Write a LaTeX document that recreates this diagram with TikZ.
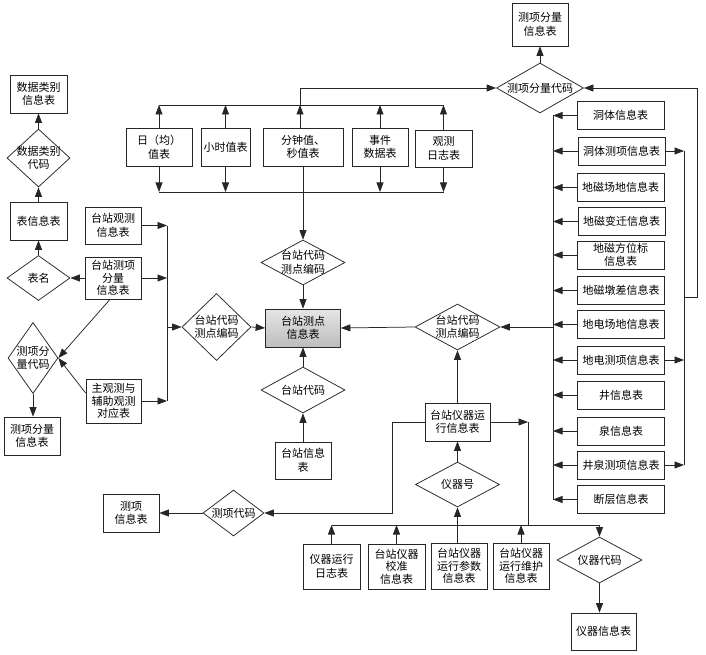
\documentclass[tikz,border=0pt]{standalone}
\usepackage{fontspec}
\setmainfont{Noto Sans CJK SC}
\usetikzlibrary{arrows.meta,shapes.geometric,calc}
\begin{document}
\begin{tikzpicture}[x=1pt,y=-1pt,
 box/.style={draw=black!85, line width=0.75pt, fill=white, align=center, inner sep=1pt, font=\fontsize{11}{13.5}\selectfont},
 rbox/.style={box, minimum width=87pt, minimum height=28pt},
 dia/.style={draw=black!85, diamond, line width=0.75pt, inner sep=0pt, fill=white},
 dtext/.style={align=center, inner sep=0pt, font=\fontsize{11}{13.5}\selectfont},
 arr/.style={draw=black!85, line width=0.75pt, -{Triangle[length=9.5pt,width=7pt]}},
 ln/.style={draw=black!85, line width=0.75pt}]
\useasboundingbox (0,0) rectangle (706,655);

% left column
\node[box, minimum width=57pt, minimum height=38pt] (dlxx) at (38.5,94) {数据类别\\信息表};
\node[dia, minimum width=63pt, minimum height=58pt, label={[dtext,name=dldmT]center:数据类别\\代码}] (dldm) at (38.5,158) {};
\node[box, minimum width=57pt, minimum height=38pt] (bxx) at (38.5,221) {表信息表};
\node[dia, minimum width=63pt, minimum height=45pt, label={[dtext,name=bmT]center:表名}] (bm) at (38.5,278) {};
\node[dia, minimum width=50pt, minimum height=71pt, label={[dtext,name=cxflT]center:测项分\\量代码}] (cxfl) at (33,358) {};
\node[box, minimum width=56pt, minimum height=38pt] (cxflb) at (32,436) {测项分量\\信息表};

\node[box, minimum width=56pt, minimum height=37pt] (tzgc) at (113,225.5) {台站观测\\信息表};
\node[box, minimum width=56pt, minimum height=42pt, font=\fontsize{11}{12.5}\selectfont] (tzcx) at (113,278) {台站测项\\分量\\信息表};
\node[box, minimum width=55pt, minimum height=44pt, font=\fontsize{11}{12.5}\selectfont] (zgc) at (113.5,401) {主观测与\\辅助观测\\对应表};

% top row
\node[box, minimum width=66pt, minimum height=38pt] (rj) at (159,147) {日（均）\\值表};
\node[box, minimum width=49pt, minimum height=38pt] (xs) at (225.5,147) {小时值表};
\node[box, minimum width=80pt, minimum height=38pt] (fz) at (303,147) {分钟值、\\秒值表};
\node[box, minimum width=56pt, minimum height=38pt] (sj) at (380,147) {事件\\数据表};
\node[box, minimum width=57pt, minimum height=37pt] (gcrz) at (443.5,148.5) {观测\\日志表};

% top right
\node[box, minimum width=56pt, minimum height=43pt] (cxflxx) at (540,24.5) {测项分量\\信息表};
\node[dia, minimum width=87pt, minimum height=50pt, label={[dtext,name=cxfldmT]center:测项分量代码}] (cxfldm) at (540,88) {};

% right column
\node[rbox] (r1) at (620.5,115.5) {洞体信息表};
\node[rbox] (r2) at (621.5,151) {洞体测项信息表};
\node[rbox] (r3) at (620.5,187.5) {地磁场地信息表};
\node[rbox] (r4) at (621.5,221.5) {地磁变迁信息表};
\node[rbox, font=\fontsize{11}{13}\selectfont] (r5) at (620.5,255) {地磁方位标\\信息表};
\node[rbox] (r6) at (621,290.5) {地磁墩差信息表};
\node[rbox] (r7) at (621,324.5) {地电场地信息表};
\node[rbox] (r8) at (621,360) {地电测项信息表};
\node[rbox] (r9) at (621,395) {井信息表};
\node[rbox] (r10) at (621,431) {泉信息表};
\node[rbox] (r11) at (621,465) {井泉测项信息表};
\node[rbox] (r12) at (621,499.5) {断层信息表};

% center
\node[box, minimum width=75pt, minimum height=38pt, top color=black!10, bottom color=black!26, draw=black!85] (zd) at (303,328) {台站测点\\信息表};
\node[dia, minimum width=84pt, minimum height=45pt, label={[dtext,name=dtopT]center:台站代码\\测点编码}] (dtop) at (303,262.5) {};
\node[dia, minimum width=69pt, minimum height=67pt, label={[dtext,name=dleftT]center:台站代码\\测点编码}] (dleft) at (216.5,327) {};
\node[dia, minimum width=85pt, minimum height=46pt, label={[dtext,name=drightT]center:台站代码\\测点编码}] (dright) at (457.5,327) {};
\node[dia, minimum width=84pt, minimum height=46pt, label={[dtext,name=dbotT]center:台站代码}] (dbot) at (303,390) {};
\node[box, minimum width=56pt, minimum height=37pt] (tzxx) at (303,460.5) {台站信息\\表};

% instruments
\node[dia, minimum width=61pt, minimum height=46pt, label={[dtext,name=cxdmT]center:测项代码}] (cxdm) at (233.5,513) {};
\node[box, minimum width=56pt, minimum height=38pt] (cxxx) at (131,513) {测项\\信息表};
\node[box, minimum width=65pt, minimum height=38pt] (yqyx) at (457.5,422) {台站仪器运\\行信息表};
\node[dia, minimum width=84pt, minimum height=45pt, label={[dtext,name=yqhT]center:仪器号}] (yqh) at (457.5,484.5) {};
\node[dia, minimum width=85pt, minimum height=46pt, label={[dtext,name=yqdmT]center:仪器代码}] (yqdm) at (599.5,560) {};
\node[box, minimum width=65pt, minimum height=37pt] (yqxx) at (603.5,631.5) {仪器信息表};
\node[box, minimum width=57pt, minimum height=45pt] (rzb) at (331.5,566.5) {仪器运行\\日志表};
\node[box, minimum width=57pt, minimum height=45pt, font=\fontsize{11}{12.5}\selectfont] (jz) at (396.5,566.5) {台站仪器\\校准\\信息表};
\node[box, minimum width=56pt, minimum height=46pt, font=\fontsize{11}{12.5}\selectfont] (cs) at (459,566) {台站仪器\\运行参数\\信息表};
\node[box, minimum width=56pt, minimum height=46pt, font=\fontsize{11}{12.5}\selectfont] (wh) at (521,566) {台站仪器\\运行维护\\信息表};

% coordinates
\coordinate (bL) at (167,327);
\coordinate (bR) at (553,327);
\coordinate (topL) at (0,105);
\coordinate (botL) at (0,192);
\coordinate (bR2) at (684,297);
\coordinate (bR3) at (697,297);
\coordinate (yL) at (392,513);
\coordinate (yB) at (528,525);
\coordinate (fzT) at ($(fz.north)+(-3,0)$);

% left connectors
\draw[arr] (bm.north) -- (bxx.south);
\draw[arr] (bxx.north) -- (dldm.south);
\draw[arr] (dldm.north) -- (dlxx.south);
\draw[arr] (tzcx.west) -- (bm.east);
\draw[arr] ($(tzcx.south)+(-3,0)$) -- (cxfl.east);
\draw[arr] ($(zgc.west)+(0,-8)$) -- (cxfl.east);
\draw[arr] (cxfl.south) -- (cxfl.south |- cxflb.north);

\draw[arr] (tzgc.east) -- (tzgc.east -| bL);
\draw[arr] (tzcx.east) -- (tzcx.east -| bL);
\draw[arr] (zgc.east) -- (zgc.east -| bL);
\draw[ln] (tzgc.east -| bL) -- (zgc.east -| bL);
\draw[arr] (bL) -- (dleft.west);

% top row connectors
\foreach \n in {rj,xs,sj,gcrz}{
  \draw[arr] (\n.north) -- (\n.north |- topL);
  \draw[arr] (\n.south) -- (\n.south |- botL);
}
\draw[arr] (fzT) -- (fzT |- topL);
\draw[ln] (rj.north |- topL) -- (gcrz.north |- topL);
\draw[ln] (rj.south |- botL) -- (gcrz.south |- botL);
\draw[arr] (fzT |- topL) |- (cxfldm.west);
\draw[arr] (cxfldm.north) -- (cxflxx.south);
\draw[arr] (fz.south) -- (dtop.north);

% center connectors
\draw[arr] (dtop.south) -- (zd.north);
\draw[arr] (dleft.east) -- (zd.west);
\draw[arr] (dright.west) -- (zd.east);
\draw[arr] (dbot.north) -- (zd.south);
\draw[arr] (tzxx.north) -- (dbot.south);

% right bus
\foreach \n in {r1,r2,r3,r4,r5,r6,r7,r8,r9,r10,r11,r12}{
  \draw[arr] (\n.west) -- (\n.west -| bR);
}
\draw[ln] (r1.west -| bR) -- (r12.west -| bR);
\draw[arr] (bR) -- (dright.east);
\foreach \n in {r2,r8,r11}{
  \draw[arr] (\n.east) -- (\n.east -| bR2);
}
\draw[ln] (r2.east -| bR2) -- (r11.east -| bR2);
\draw[arr] (bR2) -- (bR3) |- (cxfldm.east);

% instrument connectors
\draw[arr] (yqyx.north) -- (dright.south);
\draw[arr] (yqyx.west) -| (yL) -- (cxdm.east);
\draw[arr] (cxdm.west) -- (cxxx.east);
\draw[arr] (yqyx.east) -- (yqyx.east -| yB);
\draw[ln] (yqyx.east -| yB) -- (yB);
\draw[ln] (rzb.north |- yB) -- (yqdm.north |- yB);
\draw[arr] (yqdm.north |- yB) -- (yqdm.north);
\foreach \n in {rzb,jz,wh}{
  \draw[arr] (\n.north) -- (\n.north |- yB);
}
\draw[arr] (yqh.south |- cs.north) -- (yqh.south);
\draw[arr] (yqh.north) -- (yqyx.south);
\draw[arr] (yqdm.south) -- (yqdm.south |- yqxx.north);
\end{tikzpicture}
\end{document}
